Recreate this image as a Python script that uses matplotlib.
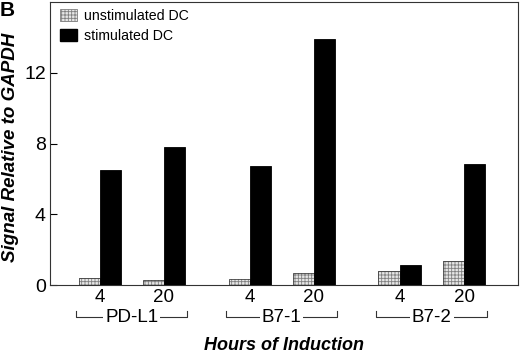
import matplotlib
matplotlib.use("Agg")
import matplotlib.pyplot as plt
from matplotlib.patches import Patch
import matplotlib.transforms as mtransforms

plt.rcParams['font.family'] = ['Liberation Sans', 'DejaVu Sans']
plt.rcParams['hatch.linewidth'] = 0.6

genes = ["PD-L1", "B7-1", "B7-2"]
hours = ["4", "20", "4", "20", "4", "20"]
unstimulated = [0.42, 0.28, 0.36, 0.66, 0.80, 1.35]
stimulated = [6.5, 7.8, 6.7, 13.9, 1.12, 6.85]
positions = [0.0, 1.0, 2.34, 3.34, 4.68, 5.69]
yticks = [0, 4, 8, 12]

W, H = 520, 355
fig = plt.figure(figsize=(W / 100, H / 100), dpi=100)
ax_l, ax_r, ax_t, ax_b = 50, 518, 2, 285
ax = fig.add_axes([ax_l / W, (H - ax_b) / H, (ax_r - ax_l) / W, (ax_b - ax_t) / H])

w = 0.33
xu = [p - w / 2 for p in positions]
xs = [p + w / 2 for p in positions]
# stippled unstimulated bars: hatched fill then outline
ax.bar(xu, unstimulated, width=w, color='#e6e6e6', edgecolor='#808080',
       hatch='+++++', linewidth=0, zorder=2)
ax.bar(xu, unstimulated, width=w, fill=False, edgecolor='#444444',
       linewidth=0.6, zorder=3)
ax.bar(xs, stimulated, width=w, color='black', edgecolor='black',
       linewidth=0.6, zorder=3)

ax.set_xlim(-0.78, 6.53)
ax.set_ylim(0, 16)
ax.set_yticks(yticks)
ax.set_yticklabels([str(t) for t in yticks], fontsize=14)
ax.tick_params(axis='y', direction='in', length=5, width=0.8, pad=3)
ax.set_xticks(positions)
ax.set_xticklabels(hours, fontsize=13.5)
ax.tick_params(axis='x', length=0, pad=3)
for s in ax.spines.values():
    s.set_linewidth(0.8)
    s.set_color('#333333')

# group brackets
trans = mtransforms.blended_transform_factory(ax.transData, ax.transAxes)
y_top = (ax_b - 311) / (ax_b - ax_t)
y_bot = (ax_b - 317) / (ax_b - ax_t)
for i, g in enumerate(genes):
    x0 = positions[2 * i] - w - 0.04
    x1 = positions[2 * i + 1] + w + 0.03
    ax.plot([x0, x0, x1, x1], [y_top, y_bot, y_bot, y_top], color='#333333',
            lw=0.8, transform=trans, clip_on=False)
    ax.text((x0 + x1) / 2, y_bot, g, transform=trans, ha='center', va='center',
            fontsize=13.5, bbox=dict(facecolor='white', edgecolor='none', pad=1.5))

fig.text(284 / W, 1 - 345 / H, "Hours of Induction", ha='center', va='center',
         fontsize=13, fontweight='bold', fontstyle='italic')
fig.text(11 / W, 1 - 147 / H, "Signal Relative to GAPDH", ha='center', va='center',
         rotation=90, fontsize=13.5, fontweight='bold', fontstyle='italic')
fig.text(0 / W, 1 - 0.5 / H, "B", ha='left', va='top', fontsize=15,
         fontweight='bold')

handles = [Patch(facecolor='#e6e6e6', edgecolor='#808080', hatch='+++++',
                 linewidth=0.6, label='unstimulated DC'),
           Patch(facecolor='black', edgecolor='black', label='stimulated DC')]
ax.legend(handles=handles, loc='upper left', bbox_to_anchor=(0.022, 0.975),
          frameon=False, fontsize=10.2, handlelength=1.15, handleheight=0.95,
          handletextpad=0.5, labelspacing=0.4, borderpad=0, borderaxespad=0)

fig.savefig("out.png", dpi=100)
